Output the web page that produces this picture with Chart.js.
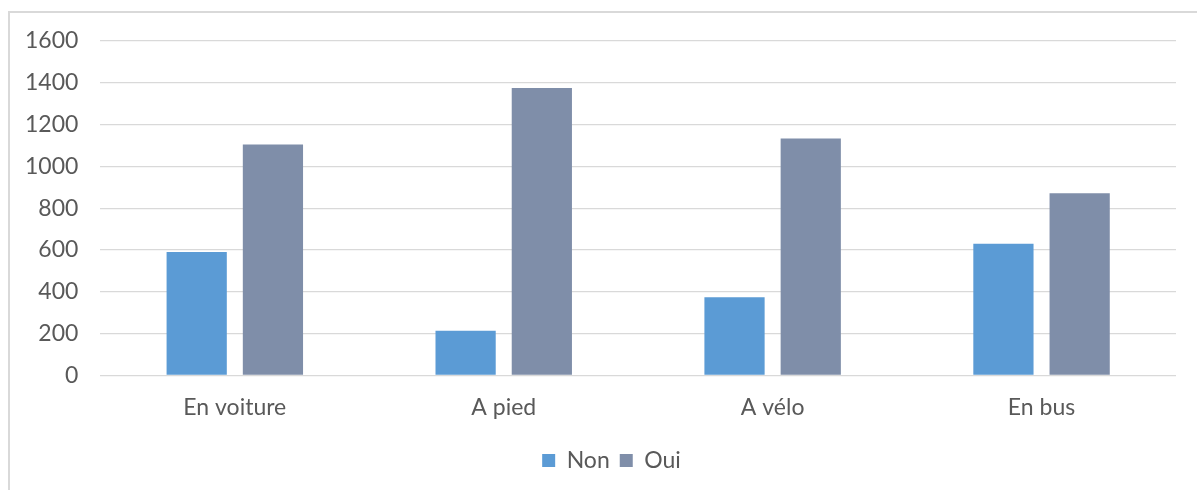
<!DOCTYPE html>
<html>
<head>
<meta charset="utf-8">
<script src="https://cdn.jsdelivr.net/npm/chart.js@4"></script>
<style>
  body { margin: 0; background: #fff; overflow: hidden; }
  #frame { position: absolute; left: 8px; top: 11px; width: 1200px; height: 500px; border: 2px solid #d9d9d9; box-sizing: border-box; }
  #wrap { position: absolute; left: 0; top: 0; width: 1197px; height: 490px; }
</style>
</head>
<body>
<div id="frame"></div>
<div id="wrap"><canvas id="chart"></canvas></div>
<script>
// Transport mode answers
const categories = ['En voiture', 'A pied', 'A vélo', 'En bus'];
const nonValues = [590, 214, 374, 630];
const ouiValues = [1105, 1375, 1134, 871];

const textColor = '#595959';
const font = { family: 'Lato', size: 23 };

// legend is centred on the plot area in the original, not the whole canvas
const legendShift = {
    id: 'legendShift',
    afterLayout(chart) {
        chart.legend.left += 22;
        chart.legend.right += 22;
    }
};

new Chart(document.getElementById('chart').getContext('2d'), {
    type: 'bar',
    data: {
        labels: categories,
        datasets: [
            { label: 'Non', data: nonValues, backgroundColor: '#5b9bd5' },
            { label: 'Oui', data: ouiValues, backgroundColor: '#7f8ea9' }
        ]
    },
    options: {
        responsive: true,
        maintainAspectRatio: false,
        animation: false,
        categoryPercentage: 0.567,
        barPercentage: 0.79,
        layout: { padding: { left: 3, right: 21, top: 41, bottom: 8 } },
        scales: {
            y: {
                min: 0, max: 1600,
                ticks: { stepSize: 200, color: textColor, font: font, padding: 22, callback: v => String(v) },
                grid: { color: '#d9d9d9', lineWidth: 1.3, drawTicks: false },
                border: { display: false }
            },
            x: {
                ticks: { color: textColor, font: font, padding: 18 },
                grid: { display: false, drawTicks: false },
                border: { display: false }
            }
        },
        plugins: {
            legend: {
                position: 'bottom',
                labels: { color: textColor, font: font, boxWidth: 13, boxHeight: 13, padding: 10 }
            },
            tooltip: { enabled: false }
        }
    },
    plugins: [legendShift]
});
</script>
</body>
</html>
